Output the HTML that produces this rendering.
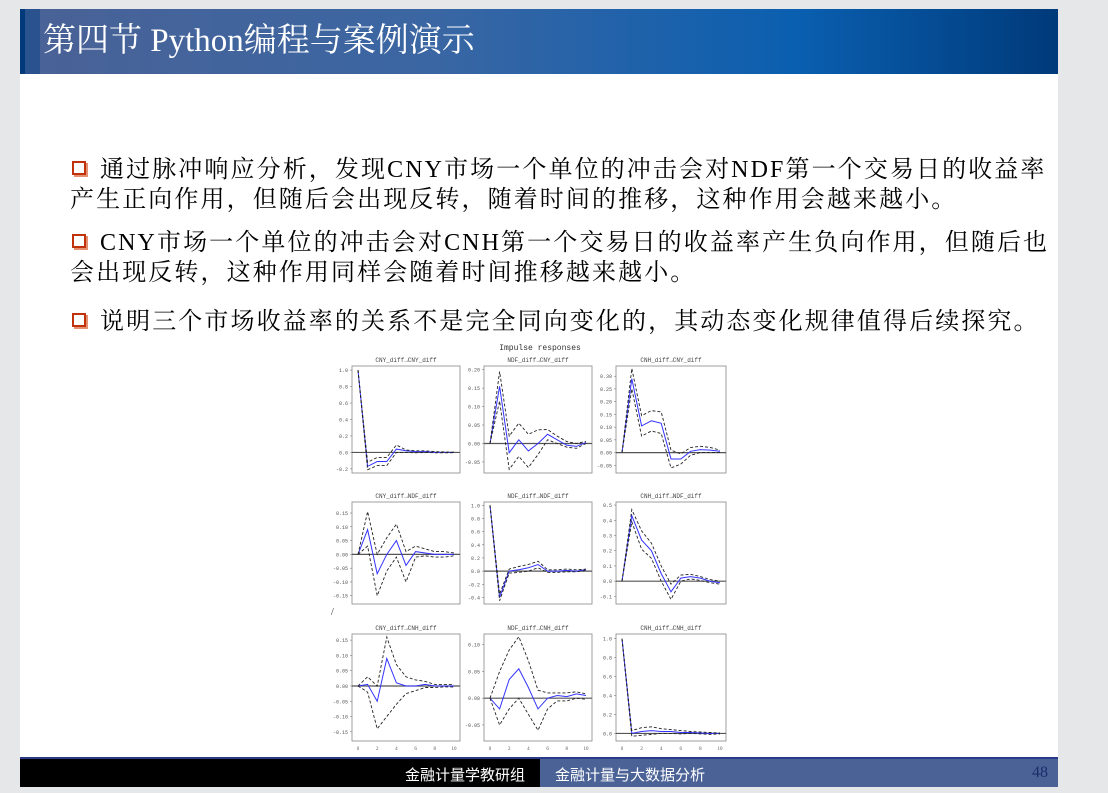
<!DOCTYPE html>
<html><head><meta charset="utf-8"><style>
html,body{margin:0;padding:0;}
body{width:1108px;height:793px;background:#e6e7e8;position:relative;overflow:hidden;font-family:"Liberation Serif","Noto Serif CJK SC",serif;}
.slide{position:absolute;left:20px;top:9px;width:1038px;height:778px;background:#fff;}
.hdr{position:absolute;left:20px;top:9px;width:1038px;height:65px;background:linear-gradient(90deg,#4a6296 0%,#3a66a3 40%,#0a5fb0 75%,#003a7a 100%);}
.hdr .s1{position:absolute;left:0;top:0;width:5px;height:65px;background:#003a7a;}
.hdr .s2{position:absolute;left:5px;top:0;width:15px;height:65px;background:#1d4c8a;opacity:.7}
.title{position:absolute;left:43px;top:21px;color:#fff;font-size:33px;line-height:40px;white-space:nowrap;}
.p{position:absolute;left:70px;font-size:24px;letter-spacing:2.1px;line-height:30px;color:#000;white-space:nowrap;}
.bx{display:inline-block;width:10px;height:10px;border:2px solid #c0320a;box-shadow:2px 2px 0 #e59070;margin:0 14px 0 2px;vertical-align:2px;}
.ft1{position:absolute;left:20px;top:757px;width:520px;height:30px;background:#000;border-top:2px solid #2a3a8a;box-sizing:border-box;}
.ft2{position:absolute;left:540px;top:757px;width:518px;height:30px;background:#4a6296;border-top:2px solid #2a3a8a;box-sizing:border-box;}
.ft{position:absolute;font-family:"Liberation Sans","Noto Sans CJK SC",sans-serif;font-size:15px;color:#fff;top:764px;}
</style></head><body>
<div class="slide"></div>
<div class="hdr"><div class="s1"></div><div class="s2"></div></div>
<div class="title">第四节 Python编程与案例演示</div>
<div class="p" style="top:155px"><span class="bx"></span>通过脉冲响应分析，发现CNY市场一个单位的冲击会对NDF第一个交易日的收益率</div>
<div class="p" style="top:185px">产生正向作用，但随后会出现反转，随着时间的推移，这种作用会越来越小。</div>
<div class="p" style="top:228px"><span class="bx"></span>CNY市场一个单位的冲击会对CNH第一个交易日的收益率产生负向作用，但随后也</div>
<div class="p" style="top:258px">会出现反转，这种作用同样会随着时间推移越来越小。</div>
<div class="p" style="top:307px"><span class="bx"></span>说明三个市场收益率的关系不是完全同向变化的，其动态变化规律值得后续探究。</div>
<svg id="ch" style="position:absolute;left:0;top:0" width="1108" height="793"></svg>
<div class="ft1"></div><div class="ft2"></div>
<div class="ft" style="left:405px">金融计量学教研组</div>
<div class="ft" style="left:555px">金融计量与大数据分析</div>
<div class="ft" style="left:1032px;color:#1d2d6a;font-family:'Liberation Serif',serif;font-size:16px">48</div>
<script>
var P=[
[352,366,460,473,-0.25,1.05,[1,.8,.6,.4,.2,0,-.2],[1,-.17,-.11,-.11,.04,.02,.01,.01,0,0,0],[1,-.12,-.06,-.06,.09,.03,.02,.02,.01,.005,.003],[1,-.21,-.16,-.16,0,.0,-.005,0,-.005,-.005,-.003],"CNY_diff→CNY_diff",1],
[484,366,592,473,-.08,.21,[.2,.15,.1,.05,0,-.05],[0,.155,-.025,.01,-.02,0,.025,.01,-.005,-.008,.003],[0,.195,.02,.055,.025,.037,.038,.02,.005,0,.006],[0,.115,-.07,-.035,-.065,-.03,.01,0,-.01,-.013,0],"NDF_diff→CNY_diff",2],
[616,366,726,473,-.08,.34,[.3,.25,.2,.15,.1,.05,0,-.05],[0,.29,.105,.125,.115,-.025,-.025,.005,.012,.01,.005],[0,.33,.145,.165,.16,.01,-.005,.02,.025,.02,.01],[0,.25,.065,.085,.075,-.06,-.045,-.01,0,0,0],"CNH_diff→CNY_diff",2],
[352,502,460,604,-.18,.19,[.15,.1,.05,0,-.05,-.1,-.15],[0,.09,-.07,0,.05,-.04,.01,.005,0,0,0],[0,.155,0,.06,.11,.01,.03,.02,.01,.01,.005],[0,.03,-.15,-.06,-.01,-.1,-.01,-.005,-.01,-.01,-.005],"CNY_diff→NDF_diff",2],
[484,502,592,604,-.5,1.05,[1,.8,.6,.4,.2,0,-.2,-.4],[1,-.4,0,.02,.05,.1,0,0,.01,0,.02],[1,-.35,.03,.07,.1,.15,.02,.02,.03,.02,.03],[1,-.45,-.03,-.02,0,.05,-.02,-.02,-.01,-.01,.01],"NDF_diff→NDF_diff",1],
[616,502,726,604,-.15,.52,[.5,.4,.3,.2,.1,0,-.1],[0,.43,.27,.2,.05,-.07,.02,.03,.02,0,-.01],[0,.47,.33,.25,.1,-.02,.04,.045,.03,.01,0],[0,.39,.21,.15,0,-.12,0,.015,.005,-.01,-.02],"CNH_diff→NDF_diff",1],
[352,634,460,741,-.18,.17,[.15,.1,.05,0,-.05,-.1,-.15],[0,.005,-.05,.09,.01,0,0,.005,0,0,0],[0,.03,0,.16,.07,.03,.02,.015,.005,.005,.005],[0,-.02,-.14,-.1,-.06,-.025,-.015,-.005,-.005,-.003,-.003],"CNY_diff→CNH_diff",2],
[484,634,592,741,-.08,.12,[.1,.05,0,-.05],[0,-.02,.035,.055,.02,-.02,0,.005,.003,.008,.005],[0,.05,.09,.115,.07,.015,.01,.01,.01,.012,.008],[0,-.05,-.02,0,-.03,-.06,-.02,-.005,-.005,0,-.002],"NDF_diff→CNH_diff",2],
[616,634,726,741,-.08,1.05,[1,.8,.6,.4,.2,0],[1,0,.02,.03,.02,.02,.01,.01,.005,0,0],[1,.03,.06,.07,.05,.04,.03,.02,.015,.01,.005],[1,-.03,-.02,-.01,0,0,-.005,0,-.005,-.01,-.005],"CNH_diff→CNH_diff",1]];
var F='font-family="Liberation Mono,DejaVu Sans Mono,DejaVu Sans,monospace"';
var s='<text x="540" y="350" font-size="8" text-anchor="middle" '+F+' fill="#333">Impulse responses</text>';
P.forEach(function(p,i){var x0=p[0],y0=p[1],x1=p[2],y1=p[3],lo=p[4],hi=p[5];
function X(t){return x0+6+t*(x1-x0-12)/10}function Y(v){return y1-(v-lo)/(hi-lo)*(y1-y0)}
function pl(a,c,d,w){return '<polyline fill="none" stroke="'+c+'" stroke-width="'+w+'" '+(d?'stroke-dasharray="3,2" ':'')+'points="'+a.map(function(v,t){return X(t).toFixed(1)+','+Y(v).toFixed(1)}).join(' ')+'"/>'}
s+='<rect x="'+x0+'" y="'+y0+'" width="'+(x1-x0)+'" height="'+(y1-y0)+'" fill="#fff" stroke="#888" stroke-width="0.8"/>';
s+='<text x="'+((x0+x1)/2)+'" y="'+(y0-4)+'" font-size="6" text-anchor="middle" '+F+' fill="#444">'+p[10]+'</text>';
p[6].forEach(function(v){var y=Y(v);s+='<line x1="'+(x0-2)+'" x2="'+x0+'" y1="'+y+'" y2="'+y+'" stroke="#666" stroke-width=".5"/><text x="'+(x0-4)+'" y="'+(y+2)+'" font-size="5" text-anchor="end" '+F+' fill="#555">'+v.toFixed(p[11])+'</text>'});
s+='<line x1="'+x0+'" x2="'+x1+'" y1="'+Y(0)+'" y2="'+Y(0)+'" stroke="#555" stroke-width="1.2"/>';
s+=pl(p[7],'#3333ff',0,1)+pl(p[8],'#222',1,.9)+pl(p[9],'#222',1,.9);
if(i>=6){for(var t=0;t<=10;t+=2){s+='<text x="'+X(t)+'" y="'+(y1+9)+'" font-size="5" text-anchor="middle" fill="#555">'+t+'</text>'}}
});
s+='<text x="331" y="615" font-size="10" fill="#333">/</text>';
document.getElementById('ch').innerHTML=s;
</script>
</body></html>
